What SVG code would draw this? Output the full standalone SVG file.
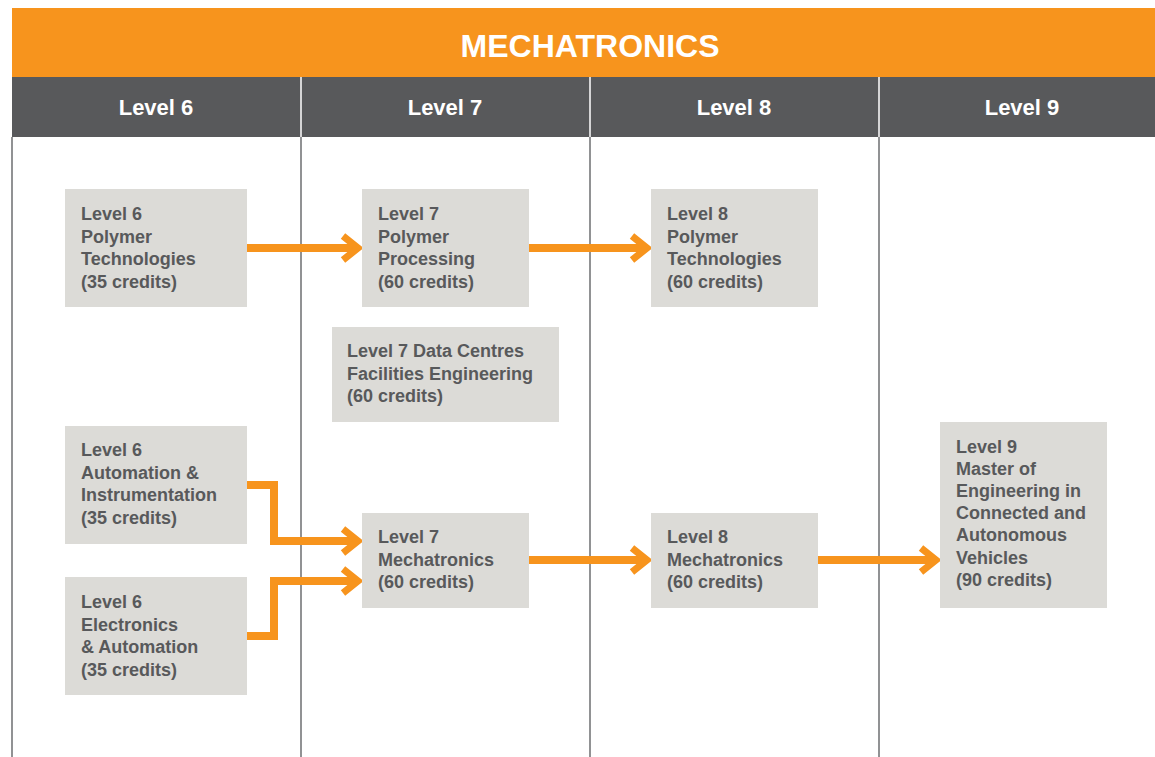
<svg xmlns="http://www.w3.org/2000/svg" width="1155" height="757" viewBox="0 0 1155 757">
<style>
.box{fill:#dcdbd7}
.t{font-family:"Liberation Sans",Arial,sans-serif;font-weight:700;font-size:18px;fill:#58595b}
.h{font-family:"Liberation Sans",Arial,sans-serif;font-weight:700;font-size:22px;fill:#ffffff;text-anchor:middle}
.c{fill:none;stroke:#f7941d;stroke-width:8}
.ah{fill:none;stroke:#f7941d;stroke-width:7;stroke-linecap:butt;stroke-linejoin:miter}
.grid{stroke:#6d6e71;stroke-width:1.5}
</style>
<rect width="1155" height="757" fill="#ffffff"/>
<g id="header">
<rect x="12" y="8" width="1143" height="69" fill="#f7941d"/>
<text x="590" y="57" font-family="Liberation Sans,Arial,sans-serif" font-weight="700" font-size="32" fill="#ffffff" text-anchor="middle">MECHATRONICS</text>
<rect x="12" y="77" width="1143" height="60" fill="#58595b"/>
<g stroke="#ffffff" stroke-width="1.5"><line x1="301" y1="77" x2="301" y2="137"/><line x1="590" y1="77" x2="590" y2="137"/><line x1="879" y1="77" x2="879" y2="137"/></g>
<text class="h" x="156" y="115">Level 6</text>
<text class="h" x="445" y="115">Level 7</text>
<text class="h" x="734" y="115">Level 8</text>
<text class="h" x="1022" y="115">Level 9</text>
</g>
<g id="grid" class="grid">
<line x1="12" y1="137" x2="12" y2="757"/>
<line x1="301" y1="137" x2="301" y2="757"/>
<line x1="590" y1="137" x2="590" y2="757"/>
<line x1="879" y1="137" x2="879" y2="757"/>
</g>
<g id="connectors">
<path class="c" d="M247 248 H357"/>
<path class="ah" d="M343 236 L358 248 L343 260"/>
<path class="c" d="M529 248 H646"/>
<path class="ah" d="M632 236 L647 248 L632 260"/>
<path class="c" d="M247 485 H274 V541 H357"/>
<path class="ah" d="M343 529 L358 541 L343 553"/>
<path class="c" d="M247 636 H274 V581 H357"/>
<path class="ah" d="M343 569 L358 581 L343 593"/>
<path class="c" d="M529 560 H646"/>
<path class="ah" d="M632 548 L647 560 L632 572"/>
<path class="c" d="M818 560 H935"/>
<path class="ah" d="M921 548 L936 560 L921 572"/>
</g>
<g id="n-l6-polymer">
<rect class="box" x="65" y="189" width="182" height="118"/>
<text class="t"><tspan x="81" y="220">Level 6</tspan><tspan x="81" y="242.5">Polymer</tspan><tspan x="81" y="265">Technologies</tspan><tspan x="81" y="287.5">(35 credits)</tspan></text>
</g>
<g id="n-l7-polymer">
<rect class="box" x="362" y="189" width="167" height="118"/>
<text class="t"><tspan x="378" y="220">Level 7</tspan><tspan x="378" y="242.5">Polymer</tspan><tspan x="378" y="265">Processing</tspan><tspan x="378" y="287.5">(60 credits)</tspan></text>
</g>
<g id="n-l8-polymer">
<rect class="box" x="651" y="189" width="167" height="118"/>
<text class="t"><tspan x="667" y="220">Level 8</tspan><tspan x="667" y="242.5">Polymer</tspan><tspan x="667" y="265">Technologies</tspan><tspan x="667" y="287.5">(60 credits)</tspan></text>
</g>
<g id="n-l7-datacentres">
<rect class="box" x="332" y="327" width="227" height="95"/>
<text class="t"><tspan x="347" y="357">Level 7 Data Centres</tspan><tspan x="347" y="379.5">Facilities Engineering</tspan><tspan x="347" y="402">(60 credits)</tspan></text>
</g>
<g id="n-l6-automation">
<rect class="box" x="65" y="426" width="182" height="118"/>
<text class="t"><tspan x="81" y="456">Level 6</tspan><tspan x="81" y="478.5">Automation &amp;</tspan><tspan x="81" y="501">Instrumentation</tspan><tspan x="81" y="523.5">(35 credits)</tspan></text>
</g>
<g id="n-l6-electronics">
<rect class="box" x="65" y="577" width="182" height="118"/>
<text class="t"><tspan x="81" y="608">Level 6</tspan><tspan x="81" y="630.5">Electronics</tspan><tspan x="81" y="653">&amp; Automation</tspan><tspan x="81" y="675.5">(35 credits)</tspan></text>
</g>
<g id="n-l7-mechatronics">
<rect class="box" x="362" y="513" width="167" height="95"/>
<text class="t"><tspan x="378" y="543">Level 7</tspan><tspan x="378" y="565.5">Mechatronics</tspan><tspan x="378" y="588">(60 credits)</tspan></text>
</g>
<g id="n-l8-mechatronics">
<rect class="box" x="651" y="513" width="167" height="95"/>
<text class="t"><tspan x="667" y="543">Level 8</tspan><tspan x="667" y="565.5">Mechatronics</tspan><tspan x="667" y="588">(60 credits)</tspan></text>
</g>
<g id="n-l9-master">
<rect class="box" x="940" y="422" width="167" height="186"/>
<text class="t"><tspan x="956" y="452.5">Level 9</tspan><tspan x="956" y="474.7">Master of</tspan><tspan x="956" y="496.9">Engineering in</tspan><tspan x="956" y="519.1">Connected and</tspan><tspan x="956" y="541.3">Autonomous</tspan><tspan x="956" y="563.5">Vehicles</tspan><tspan x="956" y="585.7">(90 credits)</tspan></text>
</g>
</svg>
